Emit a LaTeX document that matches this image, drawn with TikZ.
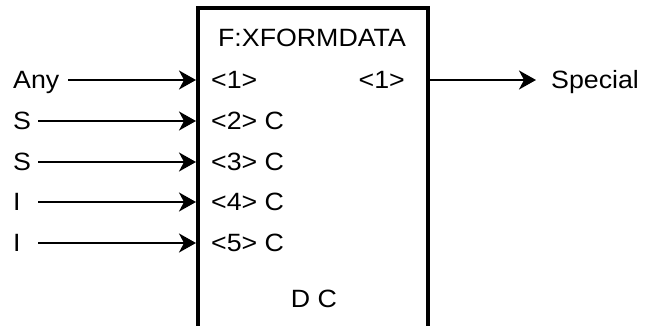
\documentclass[tikz,border=0pt]{standalone}
\usepackage{fontspec}
\setmainfont{Liberation Sans}[FakeStretch=1.07]
\usetikzlibrary{arrows.meta, positioning}
\tikzset{
  txt/.style={inner sep=0pt, text height=18pt, text depth=0pt},
  inlabel/.style={txt, anchor=west, align=left},
  port/.style={txt, anchor=west},
  sig/.style={-{Stealth[length=17pt, width=19pt, inset=5pt]}, line width=1.8pt}
}
\begin{document}
\begin{tikzpicture}[x=1pt, y=1pt, font=\fontsize{25}{29}\selectfont]
  \path[use as bounding box, clip] (0,0) rectangle (646,326);

  % Funktionsblock (unten angeschnitten)
  \node[draw, line width=4pt, minimum width=230pt, minimum height=338pt, inner sep=0pt] (fx) at (313,149) {};
  \node[txt] (title) at (312,288) {F:XFORMDATA};
  \node[txt] (dc) at (314,27) {D C};

  % Eingaenge
  \foreach \i/\lab/\w/\port/\y in {1/Any/55/{<1>}/246, 2/S/25/{<2> C}/205, 3/S/25/{<3> C}/164, 4/I/25/{<4> C}/124, 5/I/25/{<5> C}/83}
  {
    \node[inlabel, text width=\w pt] (in\i) at (13,\y) {\lab};
    \node[port] (p\i) at (211,\y) {\port};
    \draw[sig] (in\i.east) -- (in\i.east -| fx.west);
  }

  % Ausgang
  \node[port, anchor=east] (out1) at (405,246) {<1>};
  \node[txt, anchor=west] (res) at (551,246) {Special};
  \draw[sig, shorten >=15pt] (fx.east |- out1) -- (res.west);
\end{tikzpicture}
\end{document}
